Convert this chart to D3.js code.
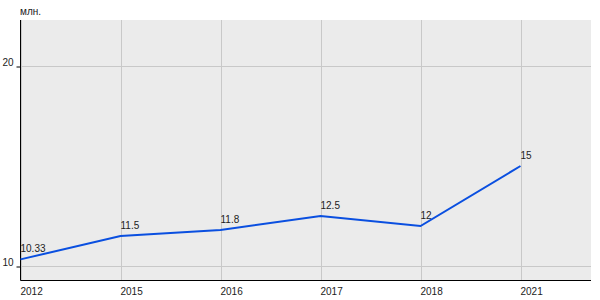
<!DOCTYPE html>
<html>
<head>
<meta charset="utf-8">
<script src="https://cdn.jsdelivr.net/npm/d3@7"></script>
<style>
body { margin: 0; background: #fff; }
text { font-family: "Liberation Sans", Arial, sans-serif; font-size: 10px; fill: #222; }
</style>
</head>
<body>
<svg id="chart" width="600" height="300"></svg>
<script>
var years = ["2012", "2015", "2016", "2017", "2018", "2021"];
var values = [10.33, 11.5, 11.8, 12.5, 12, 15];
var labels = ["10.33", "11.5", "11.8", "12.5", "12", "15"];
var yTicks = [10, 20];
var unit = "млн.";

var svg = d3.select("#chart");
var plotLeft = 20.5, plotRight = 591, plotTop = 20, plotBottom = 280;

var x = d3.scalePoint().domain(years).range([plotLeft, plotLeft + 500]);
var y = d3.scaleLinear().domain([9.3, 22.3]).range([plotBottom, plotTop]);

svg.append("rect")
    .attr("x", plotLeft).attr("y", plotTop)
    .attr("width", plotRight - plotLeft).attr("height", plotBottom - plotTop)
    .attr("fill", "#ebebeb");

// grid
svg.append("g").selectAll("line")
    .data(years).enter().append("line")
    .attr("x1", function (d) { return Math.round(x(d)) + 0.5; })
    .attr("x2", function (d) { return Math.round(x(d)) + 0.5; })
    .attr("y1", plotTop).attr("y2", plotBottom)
    .attr("stroke", "#c8c8c8");
svg.append("g").selectAll("line")
    .data(yTicks).enter().append("line")
    .attr("x1", plotLeft).attr("x2", plotRight)
    .attr("y1", function (d) { return Math.round(y(d)) + 0.5; })
    .attr("y2", function (d) { return Math.round(y(d)) + 0.5; })
    .attr("stroke", "#c8c8c8");

// axes
var yAxis = d3.axisLeft(y).tickValues(yTicks).tickSize(4).tickPadding(3).tickFormat(d3.format("d"));
var gy = svg.append("g").attr("transform", "translate(" + plotLeft + ",0.5)").call(yAxis);
gy.select(".domain").remove();
gy.selectAll("text").attr("dy", "-0.15em");
svg.append("line").attr("x1", plotLeft).attr("x2", plotLeft).attr("y1", plotTop).attr("y2", plotBottom + 0.5)
    .attr("stroke", "#000");
svg.append("line").attr("x1", plotLeft).attr("x2", plotRight).attr("y1", plotBottom + 0.5).attr("y2", plotBottom + 0.5)
    .attr("stroke", "#000");

var xAxis = d3.axisBottom(x).tickSize(0).tickPadding(8);
var gx = svg.append("g").attr("transform", "translate(0," + plotBottom + ")").call(xAxis);
gx.select(".domain").remove();
gx.selectAll("text").attr("text-anchor", "start").attr("x", -0.5);

// line
var line = d3.line()
    .x(function (d, i) { return x(years[i]); })
    .y(function (d) { return y(d); });
svg.append("path").datum(values)
    .attr("d", line)
    .attr("fill", "none")
    .attr("stroke", "#0a4fe0")
    .attr("stroke-width", 2);

// data labels
svg.append("g").selectAll("text")
    .data(values).enter().append("text")
    .attr("x", function (d, i) { return x(years[i]); })
    .attr("y", function (d) { return y(d) - 7; })
    .text(function (d, i) { return labels[i]; });

svg.append("text").attr("x", 20).attr("y", 15).text(unit);
</script>
</body>
</html>
